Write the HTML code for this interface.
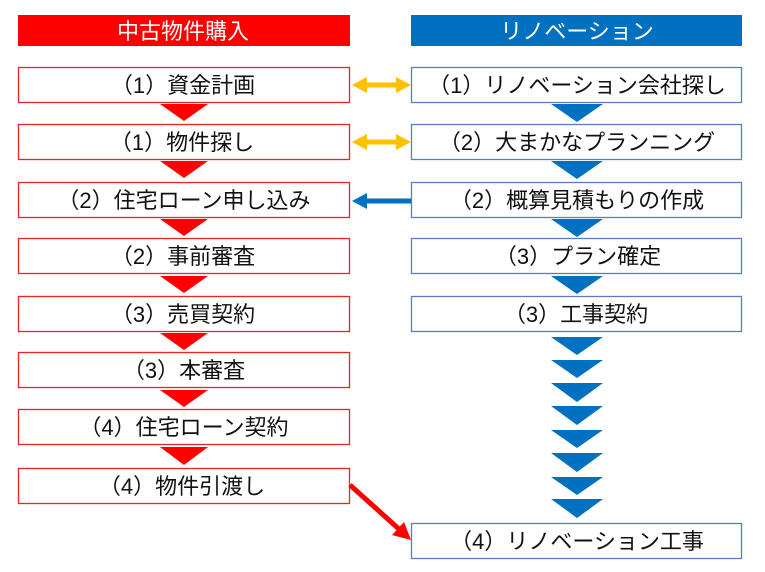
<!DOCTYPE html>
<html><head><meta charset="utf-8"><style>
html,body{margin:0;padding:0;background:#fff;}
svg{display:block;}
text{font-family:"Liberation Sans","Noto Sans CJK JP",sans-serif;}
</style></head><body>
<svg width="765" height="572" viewBox="0 0 765 572" xmlns="http://www.w3.org/2000/svg">
<rect x="0" y="0" width="765" height="572" fill="#fff"/>
<!-- headers -->
<rect x="18" y="15" width="332" height="31" fill="#FF0000"/>
<text x="183" y="39" font-size="22" fill="#fff" text-anchor="middle">中古物件購入</text>
<rect x="411" y="15" width="331" height="31" fill="#0070C0"/>
<text x="577" y="39" font-size="22" fill="#fff" text-anchor="middle">リノベーション</text>

<!-- left boxes -->
<g fill="#fff" stroke="#E8262A" stroke-width="1.3">
<rect x="18.5" y="67.5" width="331" height="35"/>
<rect x="18.5" y="124.5" width="331" height="35"/>
<rect x="18.5" y="182.5" width="331" height="35"/>
<rect x="18.5" y="238.5" width="331" height="35"/>
<rect x="18.5" y="296.5" width="331" height="35"/>
<rect x="18.5" y="352.5" width="331" height="35"/>
<rect x="18.5" y="409.5" width="331" height="35"/>
<rect x="18.5" y="468.5" width="331" height="35"/>
</g>
<g font-size="22" fill="#111" text-anchor="middle">
<text x="183" y="93">（1）資金計画</text>
<text x="182" y="150">（1）物件探し</text>
<text x="184" y="208">（2）住宅ローン申し込み</text>
<text x="183" y="264">（2）事前審査</text>
<text x="183" y="322">（3）売買契約</text>
<text x="184" y="378">（3）本審査</text>
<text x="184" y="435">（4）住宅ローン契約</text>
<text x="182" y="494">（4）物件引渡し</text>
</g>
<!-- red triangles -->
<g fill="#FF0000">
<polygon points="160,104 208,104 184,121"/>
<polygon points="160,161 208,161 184,178"/>
<polygon points="160,219 208,219 184,236"/>
<polygon points="160,276 208,276 184,293"/>
<polygon points="160,333 208,333 184,350"/>
<polygon points="160,390 208,390 184,407"/>
<polygon points="160,447 208,447 184,465"/>
</g>

<!-- right boxes -->
<g fill="#fff" stroke="#5A7CC0" stroke-width="1.3">
<rect x="411.5" y="67.5" width="330" height="35"/>
<rect x="411.5" y="124.5" width="330" height="35"/>
<rect x="411.5" y="182.5" width="330" height="35"/>
<rect x="411.5" y="238.5" width="330" height="35"/>
<rect x="411.5" y="296.5" width="330" height="35"/>
<rect x="411.5" y="523.5" width="330" height="35"/>
</g>
<g font-size="22" fill="#111" text-anchor="middle">
<text x="577" y="93">（1）リノベーション会社探し</text>
<text x="577" y="150">（2）大まかなプランニング</text>
<text x="577" y="208">（2）概算見積もりの作成</text>
<text x="578" y="264">（3）プラン確定</text>
<text x="576" y="322">（3）工事契約</text>
<text x="577" y="549">（4）リノベーション工事</text>
</g>
<!-- blue triangles -->
<g fill="#0070C0">
<polygon points="551,104 603,104 577,122"/>
<polygon points="551,161 603,161 577,179"/>
<polygon points="551,219 603,219 577,237"/>
<polygon points="551,276 603,276 577,294"/>
<polygon points="551,337 603,337 577,355"/>
<polygon points="551,360 603,360 577,378"/>
<polygon points="551,383 603,383 577,402"/>
<polygon points="551,406 603,406 577,425"/>
<polygon points="551,430 603,430 577,448"/>
<polygon points="551,453 603,453 577,472"/>
<polygon points="551,477 603,477 577,495"/>
<polygon points="551,499 603,499 577,518"/>
</g>

<!-- yellow double arrows -->
<g fill="#FFC000">
<polygon points="352,85 367,77 367,82.5 396,82.5 396,77 411,85 396,93 396,87.5 367,87.5 367,93"/>
<polygon points="352,142 367,134 367,139.5 396,139.5 396,134 411,142 396,150 396,144.5 367,144.5 367,150"/>
</g>
<!-- blue left arrow -->
<polygon fill="#0070C0" points="352,201 367,193 367,198.5 411,198.5 411,203.5 367,203.5 367,209"/>
<!-- red diagonal arrow -->
<line x1="350" y1="485" x2="400" y2="530" stroke="#FF0000" stroke-width="5"/>
<polygon fill="#FF0000" points="411,540 392,535 404,522"/>
</svg>
</body></html>
